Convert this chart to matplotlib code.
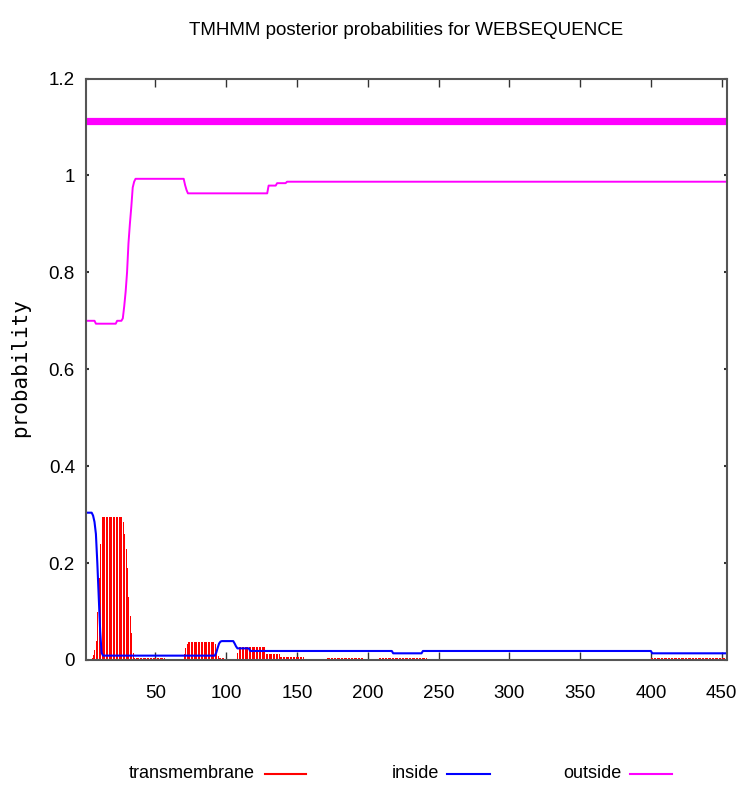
import numpy as np
import matplotlib
matplotlib.use("Agg")
import matplotlib.pyplot as plt
from matplotlib.lines import Line2D

# posterior probabilities per residue, stored as (value, run length)
seq_len = 454
tm_runs = [(0.0, 3), (0.002, 1), (0.005, 1), (0.01, 1), (0.02, 1), (0.04, 1),
           (0.10, 1), (0.17, 1), (0.24, 1), (0.295, 15), (0.285, 1), (0.26, 1),
           (0.23, 1), (0.19, 1), (0.13, 1), (0.09, 1), (0.055, 1), (0.015, 1),
           (0.004, 22), (0.0, 13), (0.012, 1), (0.025, 1), (0.033, 1),
           (0.038, 19), (0.032, 1), (0.02, 1), (0.008, 1), (0.004, 4),
           (0.0, 9), (0.015, 1), (0.027, 19), (0.012, 10), (0.006, 17),
           (0.0, 16), (0.005, 26), (0.0, 11), (0.005, 34), (0.0, 158),
           (0.005, 55)]
inside_runs = [(0.304, 5), (0.298, 1), (0.285, 1), (0.26, 1), (0.20, 1),
               (0.13, 1), (0.06, 1), (0.015, 1), (0.009, 80), (0.015, 1),
               (0.025, 1), (0.034, 1), (0.038, 1), (0.039, 9), (0.034, 1),
               (0.028, 1), (0.024, 9), (0.0186, 101), (0.0138, 21),
               (0.0186, 162), (0.0138, 54)]
outside_runs = [(0.700, 7), (0.694, 15), (0.700, 4), (0.705, 1), (0.73, 1),
                (0.76, 1), (0.80, 1), (0.86, 1), (0.90, 1), (0.935, 1),
                (0.975, 1), (0.987, 1), (0.993, 35), (0.98, 1), (0.97, 1),
                (0.963, 57), (0.979, 6), (0.984, 7), (0.987, 312)]
# predicted topology bar at the top: one outside region
region_start, region_end, region_level = 1, 454, 1.112

x_ticks = [50, 100, 150, 200, 250, 300, 350, 400, 450]
y_ticks = [0, 0.2, 0.4, 0.6, 0.8, 1.0, 1.2]
y_tick_labels = ["0", "0.2", "0.4", "0.6", "0.8", "1", "1.2"]


def expand(runs):
    out = []
    for val, n in runs:
        out += [val] * n
    return np.array(out)


tm = expand(tm_runs)
inside = expand(inside_runs)
outside = expand(outside_runs)
pos = np.arange(1, seq_len + 1)

plt.rcParams['font.family'] = ['Liberation Sans', 'DejaVu Sans']

fig = plt.figure(figsize=(7.45, 7.92), dpi=100)
ax = fig.add_axes([86 / 745, 1 - 660 / 792, 641.3 / 745, 581.5 / 792])

# impulses, one per residue
ax.vlines(pos, 0, tm, color='#ff0000', lw=0.72, antialiased=False)
ax.plot(pos, inside, color='#0000ff', lw=1.5)
ax.plot(pos, outside, color='#ff00ff', lw=1.4)
ax.plot([region_start, region_end], [region_level, region_level],
        color='#ff00ff', lw=5.2, solid_capstyle='butt')

ax.set_xlim(1, seq_len)
ax.set_ylim(0, 1.2)
ax.set_xticks(x_ticks)
ax.set_yticks(y_ticks)
ax.set_yticklabels(y_tick_labels)
ax.tick_params(axis='x', direction='in', top=True, length=6, width=1,
               pad=18, labelsize=13.5, colors='#333333', labelcolor='black')
ax.tick_params(axis='y', direction='in', right=True, length=2.5, width=1.5,
               pad=8, labelsize=13.5, colors='#333333', labelcolor='black')
for sp in ax.spines.values():
    sp.set_color('#555555')
    sp.set_linewidth(1.5)

fig.text(406 / 745, 1 - 35 / 792, "TMHMM posterior probabilities for WEBSEQUENCE",
         ha='center', va='baseline', fontsize=13.5)
fig.text(20 / 745, 1 - 368 / 792, "probability", rotation=90, ha='center',
         va='center', fontsize=15, family='DejaVu Sans Mono')

# legend row under the plot
legend_items = [("transmembrane", '#ff0000', 255, 265, 306),
                ("inside", '#0000ff', 439, 447, 490),
                ("outside", '#ff00ff', 621, 630, 672)]
ly = 1 - 774 / 792
for label, col, tx, x0, x1 in legend_items:
    fig.text(tx / 745, ly, label, ha='right', va='center', fontsize=13)
    fig.add_artist(Line2D([x0 / 745, x1 / 745], [ly, ly], color=col, lw=1.5,
                          transform=fig.transFigure))

fig.savefig("out.png", dpi=100)
